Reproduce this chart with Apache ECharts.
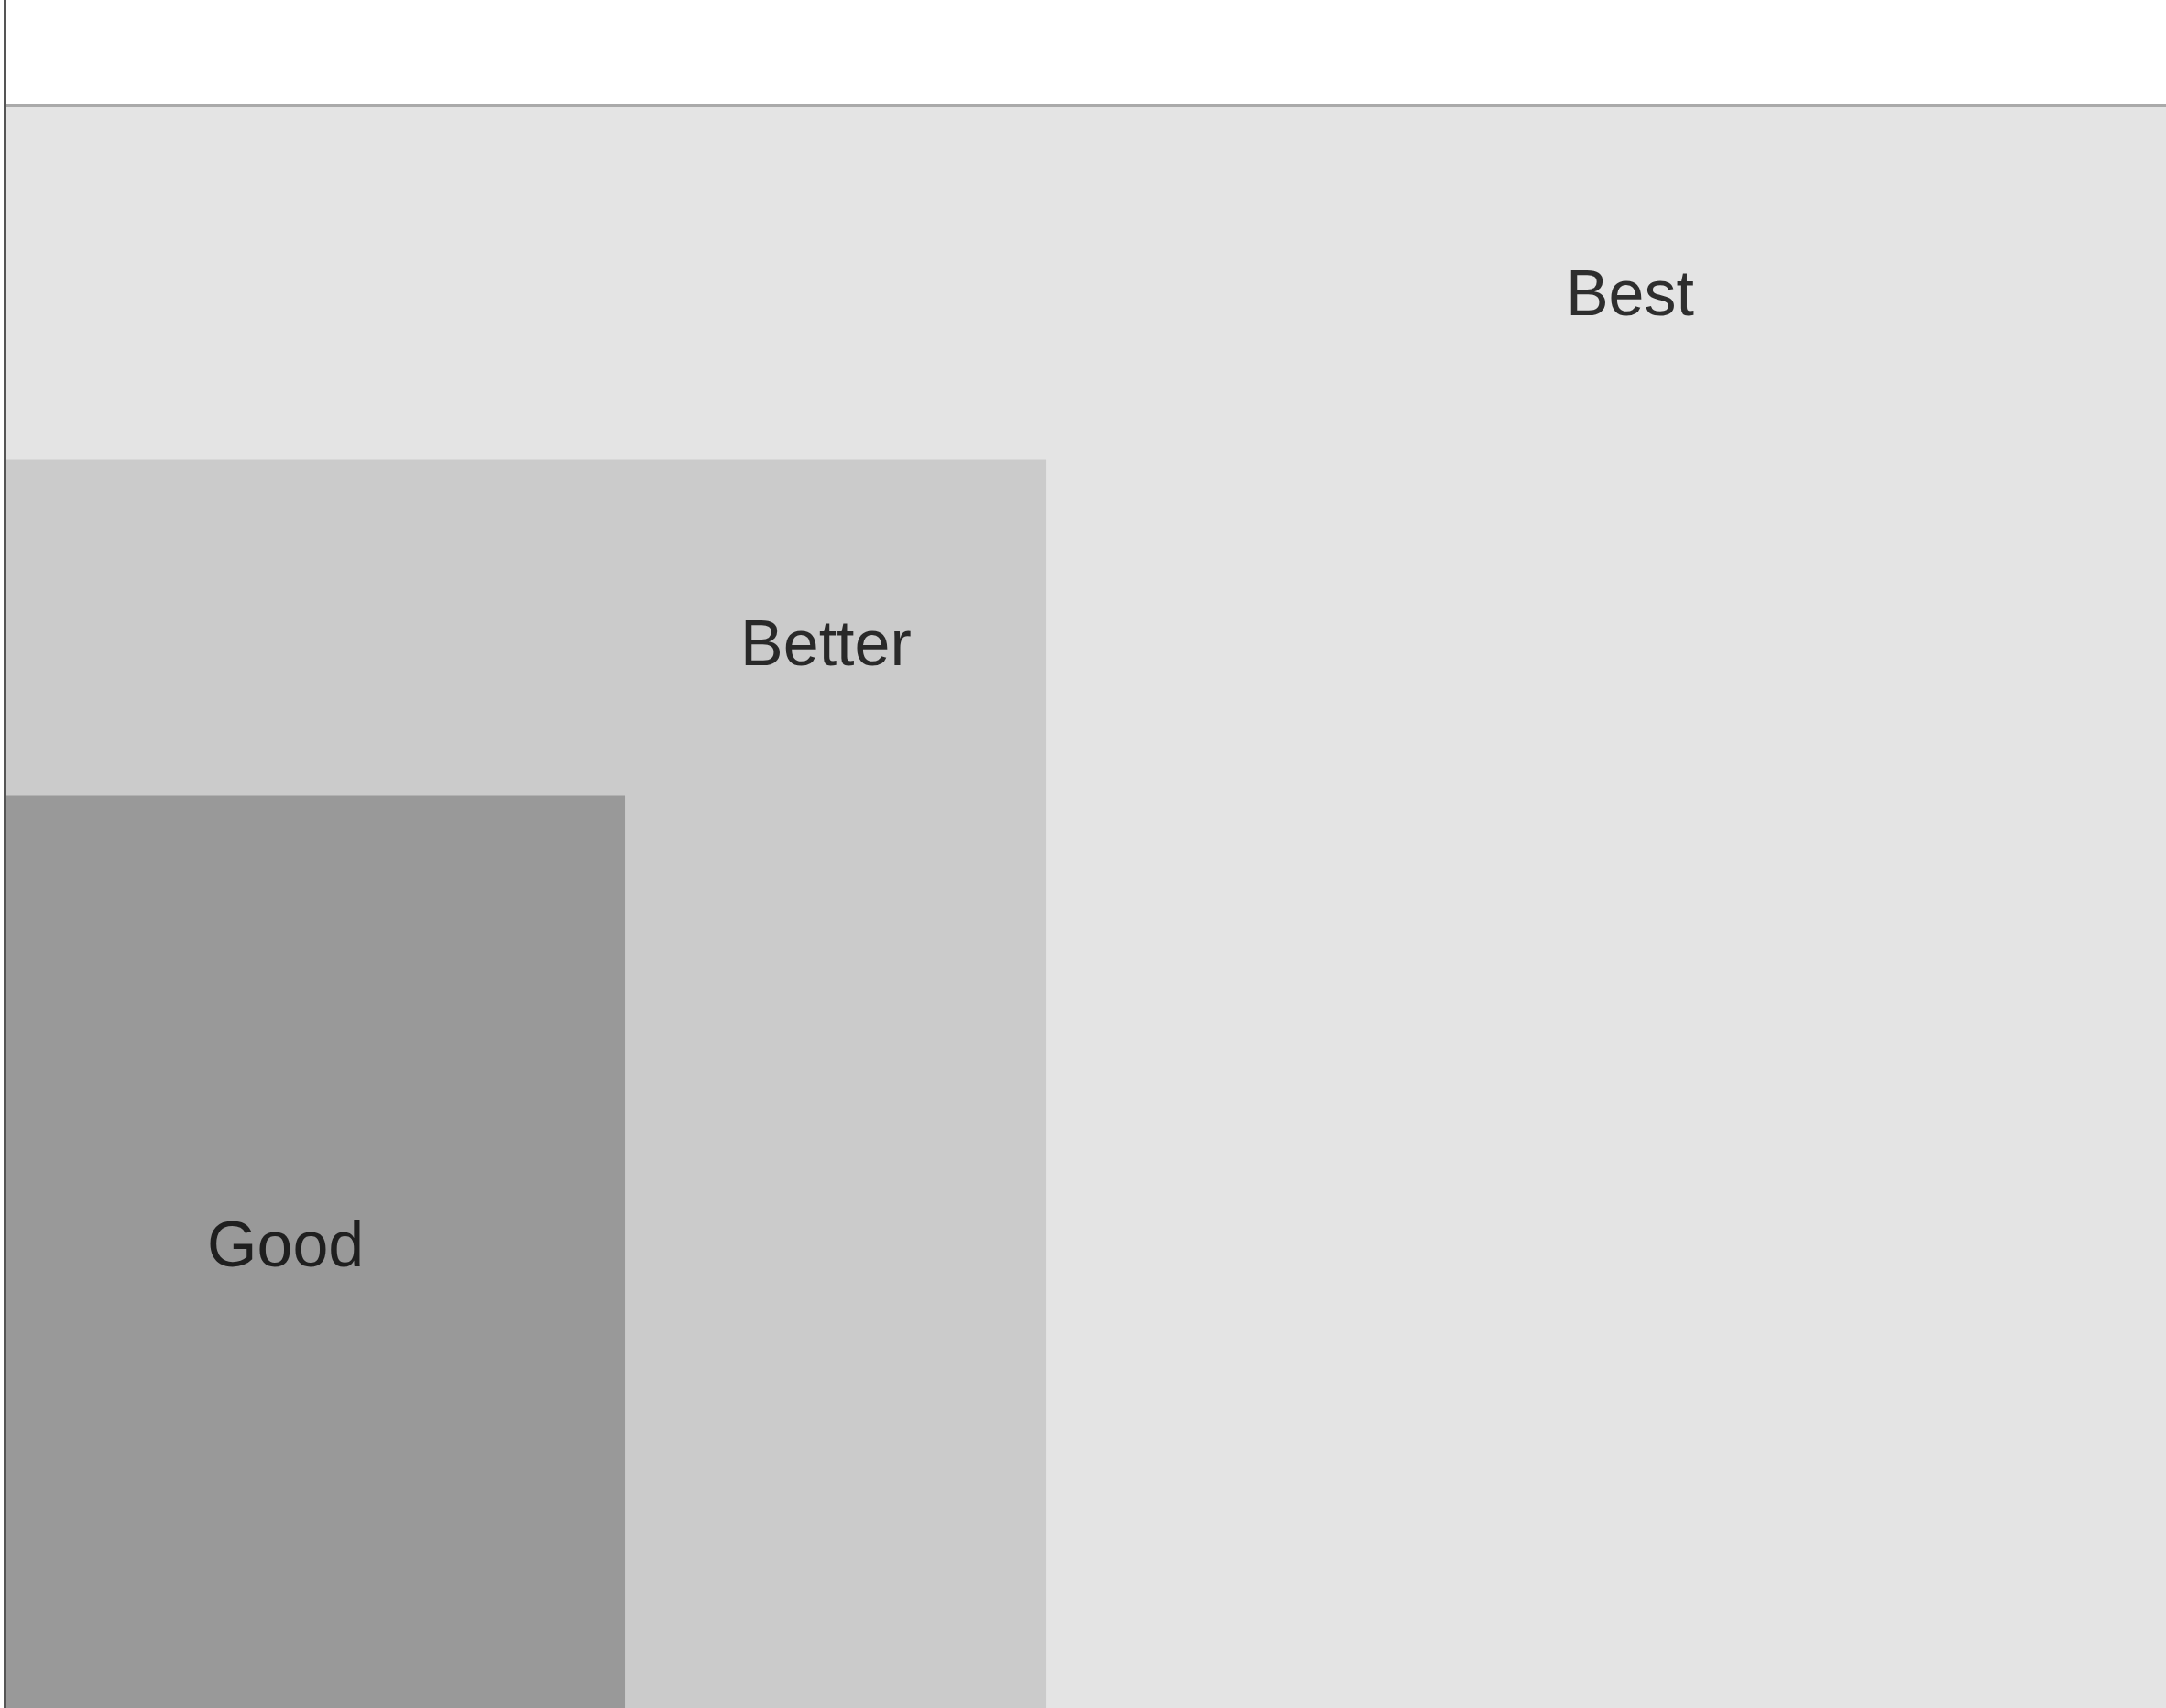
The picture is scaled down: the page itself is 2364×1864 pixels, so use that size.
<!DOCTYPE html>
<html><head><meta charset="utf-8">
<script src="https://cdn.jsdelivr.net/npm/echarts@6/dist/echarts.min.js"></script>
<style>html,body{margin:0;padding:0;background:#fff}#c{width:2364px;height:1864px}</style>
</head><body><div id="c"></div>
<script>
const bandNames = ['Best', 'Better', 'Good'];
const bandRight = [100, 48.2, 28.7];   // x extent of each band
const bandTop = [93.8, 73.1, 53.4];    // y extent of each band
const bandColors = ['#e4e4e4', '#cbcbcb', '#999999'];
const labelX = [75.2, 38.0, 13.0];
const labelY = [82.6, 62.1, 26.9];

const chart = echarts.init(document.getElementById('c'));
chart.setOption({
  animation: false,
  backgroundColor: '#fff',
  grid: {left: 5, right: 0, top: 0, bottom: 0},
  xAxis: {type: 'value', min: 0, max: 100, show: false},
  yAxis: {type: 'value', min: 0, max: 100, z: 10,
    axisLine: {show: true, lineStyle: {color: '#555', width: 3}},
    axisTick: {show: false}, axisLabel: {show: false}, splitLine: {show: false}},
  series: [{
    type: 'custom',
    z: 1,
    data: bandNames.map((n, i) => [0, bandRight[i], 0, bandTop[i], i]),
    renderItem: function (params, api) {
      const p0 = api.coord([api.value(0), api.value(2)]);
      const p1 = api.coord([api.value(1), api.value(3)]);
      const i = api.value(4);
      return {type: 'rect', shape: {x: p0[0], y: p1[1], width: p1[0] - p0[0], height: p0[1] - p1[1]},
        style: {fill: bandColors[i]}};
    },
    markLine: {silent: true, symbol: 'none', label: {show: false},
      lineStyle: {color: '#aaa', width: 3, type: 'solid'},
      data: [{yAxis: bandTop[0]}]}
  }, {
    type: 'scatter',
    z: 3,
    symbolSize: 0,
    data: bandNames.map((n, i) => ({value: [labelX[i], labelY[i]], name: n})),
    label: {show: true, position: 'inside', formatter: '{b}',
      fontFamily: 'Liberation Sans, Arial, sans-serif', fontSize: 70, color: '#000'}
  }]
});
</script></body></html>
